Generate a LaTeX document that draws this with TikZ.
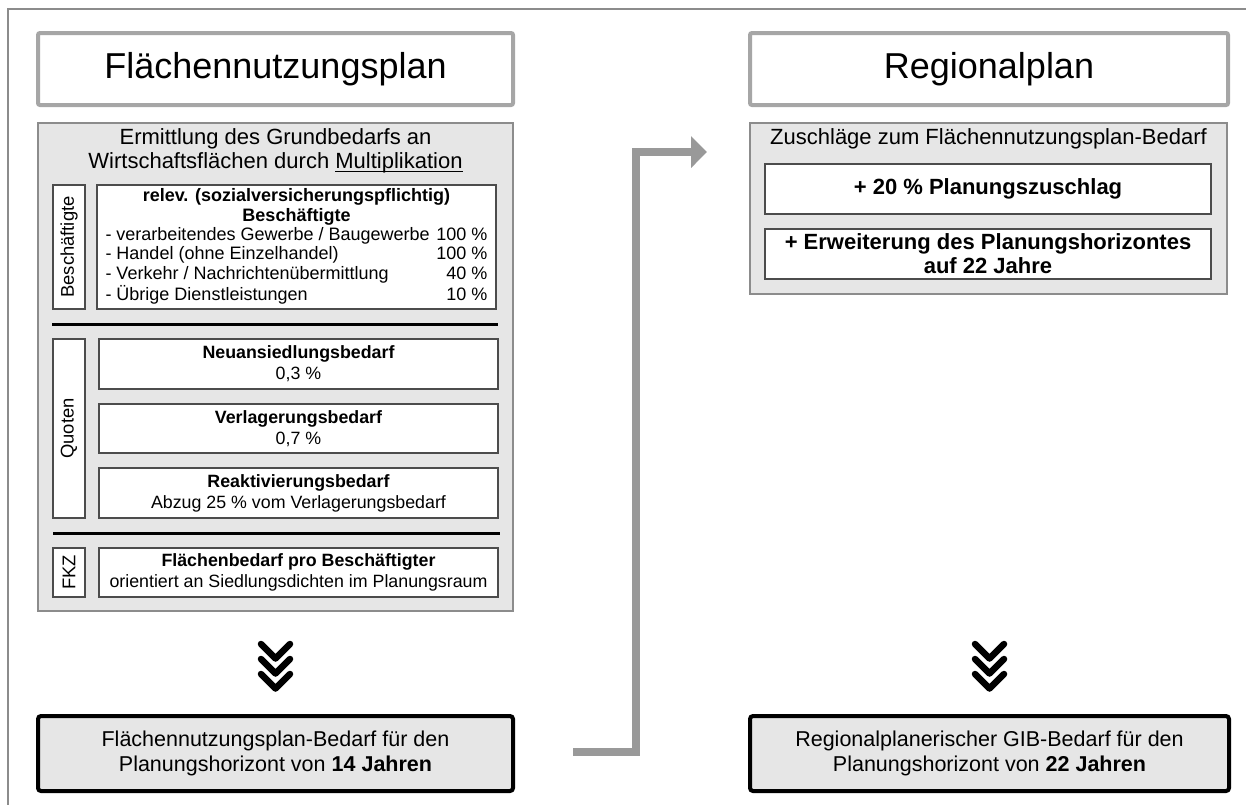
\documentclass[tikz,border=0pt]{standalone}
\usepackage{fontspec}
\setmainfont{Liberation Sans}
\usetikzlibrary{arrows.meta}
\definecolor{boxgray}{HTML}{E6E6E6}
\definecolor{titleline}{HTML}{A6A6A6}
\definecolor{frameline}{HTML}{8C8C8C}
\definecolor{linkgray}{HTML}{999999}
\newcommand\undertext[1]{\setbox0\hbox{#1}\rlap{\rule[-1.6pt]{\wd0}{0.55pt}}\box0}
\tikzset{
    titlebox/.style = {draw=titleline, line width=2pt, fill=white, rounded corners=1pt, minimum height=36pt, inner sep=0pt, font=\fontsize{18}{21}\selectfont},
    groupbox/.style = {draw=frameline, line width=0.75pt, fill=boxgray, inner sep=0pt},
    headtext/.style = {align=center, inner sep=0pt, font=\fontsize{11}{12}\selectfont},
    itembox/.style = {draw=black!70, line width=0.75pt, fill=white, inner sep=0pt, minimum width=199.5pt, align=center, font=\fontsize{8.9}{10.5}\selectfont},
    sidebox/.style = {draw=black!70, line width=0.75pt, fill=white, inner sep=0pt, rotate=90, minimum height=16pt, font=\fontsize{9.2}{10.5}\selectfont},
    plusbox/.style = {draw=black!70, line width=0.75pt, fill=white, inner sep=0pt, minimum width=223pt, minimum height=25pt, align=center, font=\bfseries\fontsize{11}{12}\selectfont},
    resultbox/.style = {draw=black, line width=2pt, fill=boxgray, rounded corners=1.5pt, minimum height=37.5pt, inner sep=0pt, align=center, font=\fontsize{10.75}{12.5}\selectfont},
    sepline/.style = {line width=1.5pt, black},
    chevron/.style = {line width=3.25pt, line cap=round, line join=round, black},
    link/.style = {line width=4pt, linkgray, -{Triangle[length=8pt,width=15.5pt]}},
    framerule/.style = {line width=0.75pt, frameline}
}

\begin{document}
\begin{tikzpicture}[x=0.5pt, y=-0.5pt]
\useasboundingbox (0,0) rectangle (1246,805);
\draw[framerule] (1246,9) -- (8,9) -- (8,805);
% titles
\node[titlebox, minimum width=237.5pt] at (275.5,69) (fnptitle) {Flächennutzungsplan};
\node[titlebox, minimum width=239pt] at (989,69) (rptitle) {Regionalplan};
%
\node[groupbox, minimum width=237.5pt, minimum height=244pt] at (275.5,367) (fnpbox) {};
\node[headtext] at (275.5,151) (fnphead) {Ermittlung des Grundbedarfs an\\Wirtschaftsflächen durch \undertext{Multiplikation}};
\node[sidebox, minimum width=62pt] at (69,247) (besch) {Beschäftigte};
\node[itembox, minimum height=62pt, font=\fontsize{9}{9.7}\selectfont] at (296.5,247) (relev) {%
\setlength{\tabcolsep}{0pt}%
\begin{tabular*}{191pt}{@{\extracolsep{\fill}}lr}
\multicolumn{2}{c}{\textbf{relev. (sozialversicherungspflichtig)}}\\
\multicolumn{2}{c}{\textbf{Beschäftigte}}\\
- verarbeitendes Gewerbe / Baugewerbe & 100 \%\\
- Handel (ohne Einzelhandel) & 100 \%\\
- Verkehr / Nachrichtenübermittlung & 40 \%\\
- Übrige Dienstleistungen & 10 \%
\end{tabular*}};
\draw[sepline] (52,324) -- (498,324);
\node[sidebox, minimum width=89.5pt] at (69,428.5) (quoten) {Quoten};
\node[itembox, minimum height=25pt] at (298.5,364) (neu) {\textbf{Neuansiedlungsbedarf}\\0,3 \%};
\node[itembox, minimum height=24.5pt] at (298.5,428.5) (verl) {\textbf{Verlagerungsbedarf}\\0,7 \%};
\node[itembox, minimum height=25pt] at (298.5,493) (reakt) {\textbf{Reaktivierungsbedarf}\\Abzug 25 \% vom Verlagerungsbedarf};
\draw[sepline] (53,533) -- (500,533);
\node[sidebox, minimum width=24.5pt] at (69,572.5) (fkz) {FKZ};
\node[itembox, minimum height=24.5pt] at (298.5,572.5) (fkzbox) {\textbf{Flächenbedarf pro Beschäftigter}\\orientiert an Siedlungsdichten im Planungsraum};
%
\node[groupbox, minimum width=238.5pt, minimum height=85.5pt] at (988.5,208.5) (rpbox) {};
\node[headtext] at (988.5,139) (rphead) {Zuschläge zum Flächennutzungsplan-Bedarf};
\node[plusbox] at (988,189) (zuschlag) {+ 20 \% Planungszuschlag};
\node[plusbox] at (988,254) (horizont) {+ Erweiterung des Planungshorizontes\\auf 22 Jahre};
% results
\node[resultbox, minimum width=237.5pt] at (275.5,753.5) (fnpres) {Flächennutzungsplan-Bedarf für den\\Planungshorizont von \textbf{14 Jahren}};
\node[resultbox, minimum width=239.5pt] at (989.5,753.5) (rpres) {Regionalplanerischer GIB-Bedarf für den\\Planungshorizont von \textbf{22 Jahren}};
% chevrons
\foreach \d in {0,15,30} {
  \draw[chevron] (261,644+\d) -- (275.5,658.5+\d) -- (290,644+\d);
  \draw[chevron] (975,644+\d) -- (989.5,658.5+\d) -- (1004,644+\d);
}
% link
\coordinate (linkstart) at (573,752);
\coordinate (linkend) at (707,152);
\draw[link] (linkstart) -- ++(63,0) |- (linkend);
\end{tikzpicture}
\end{document}
